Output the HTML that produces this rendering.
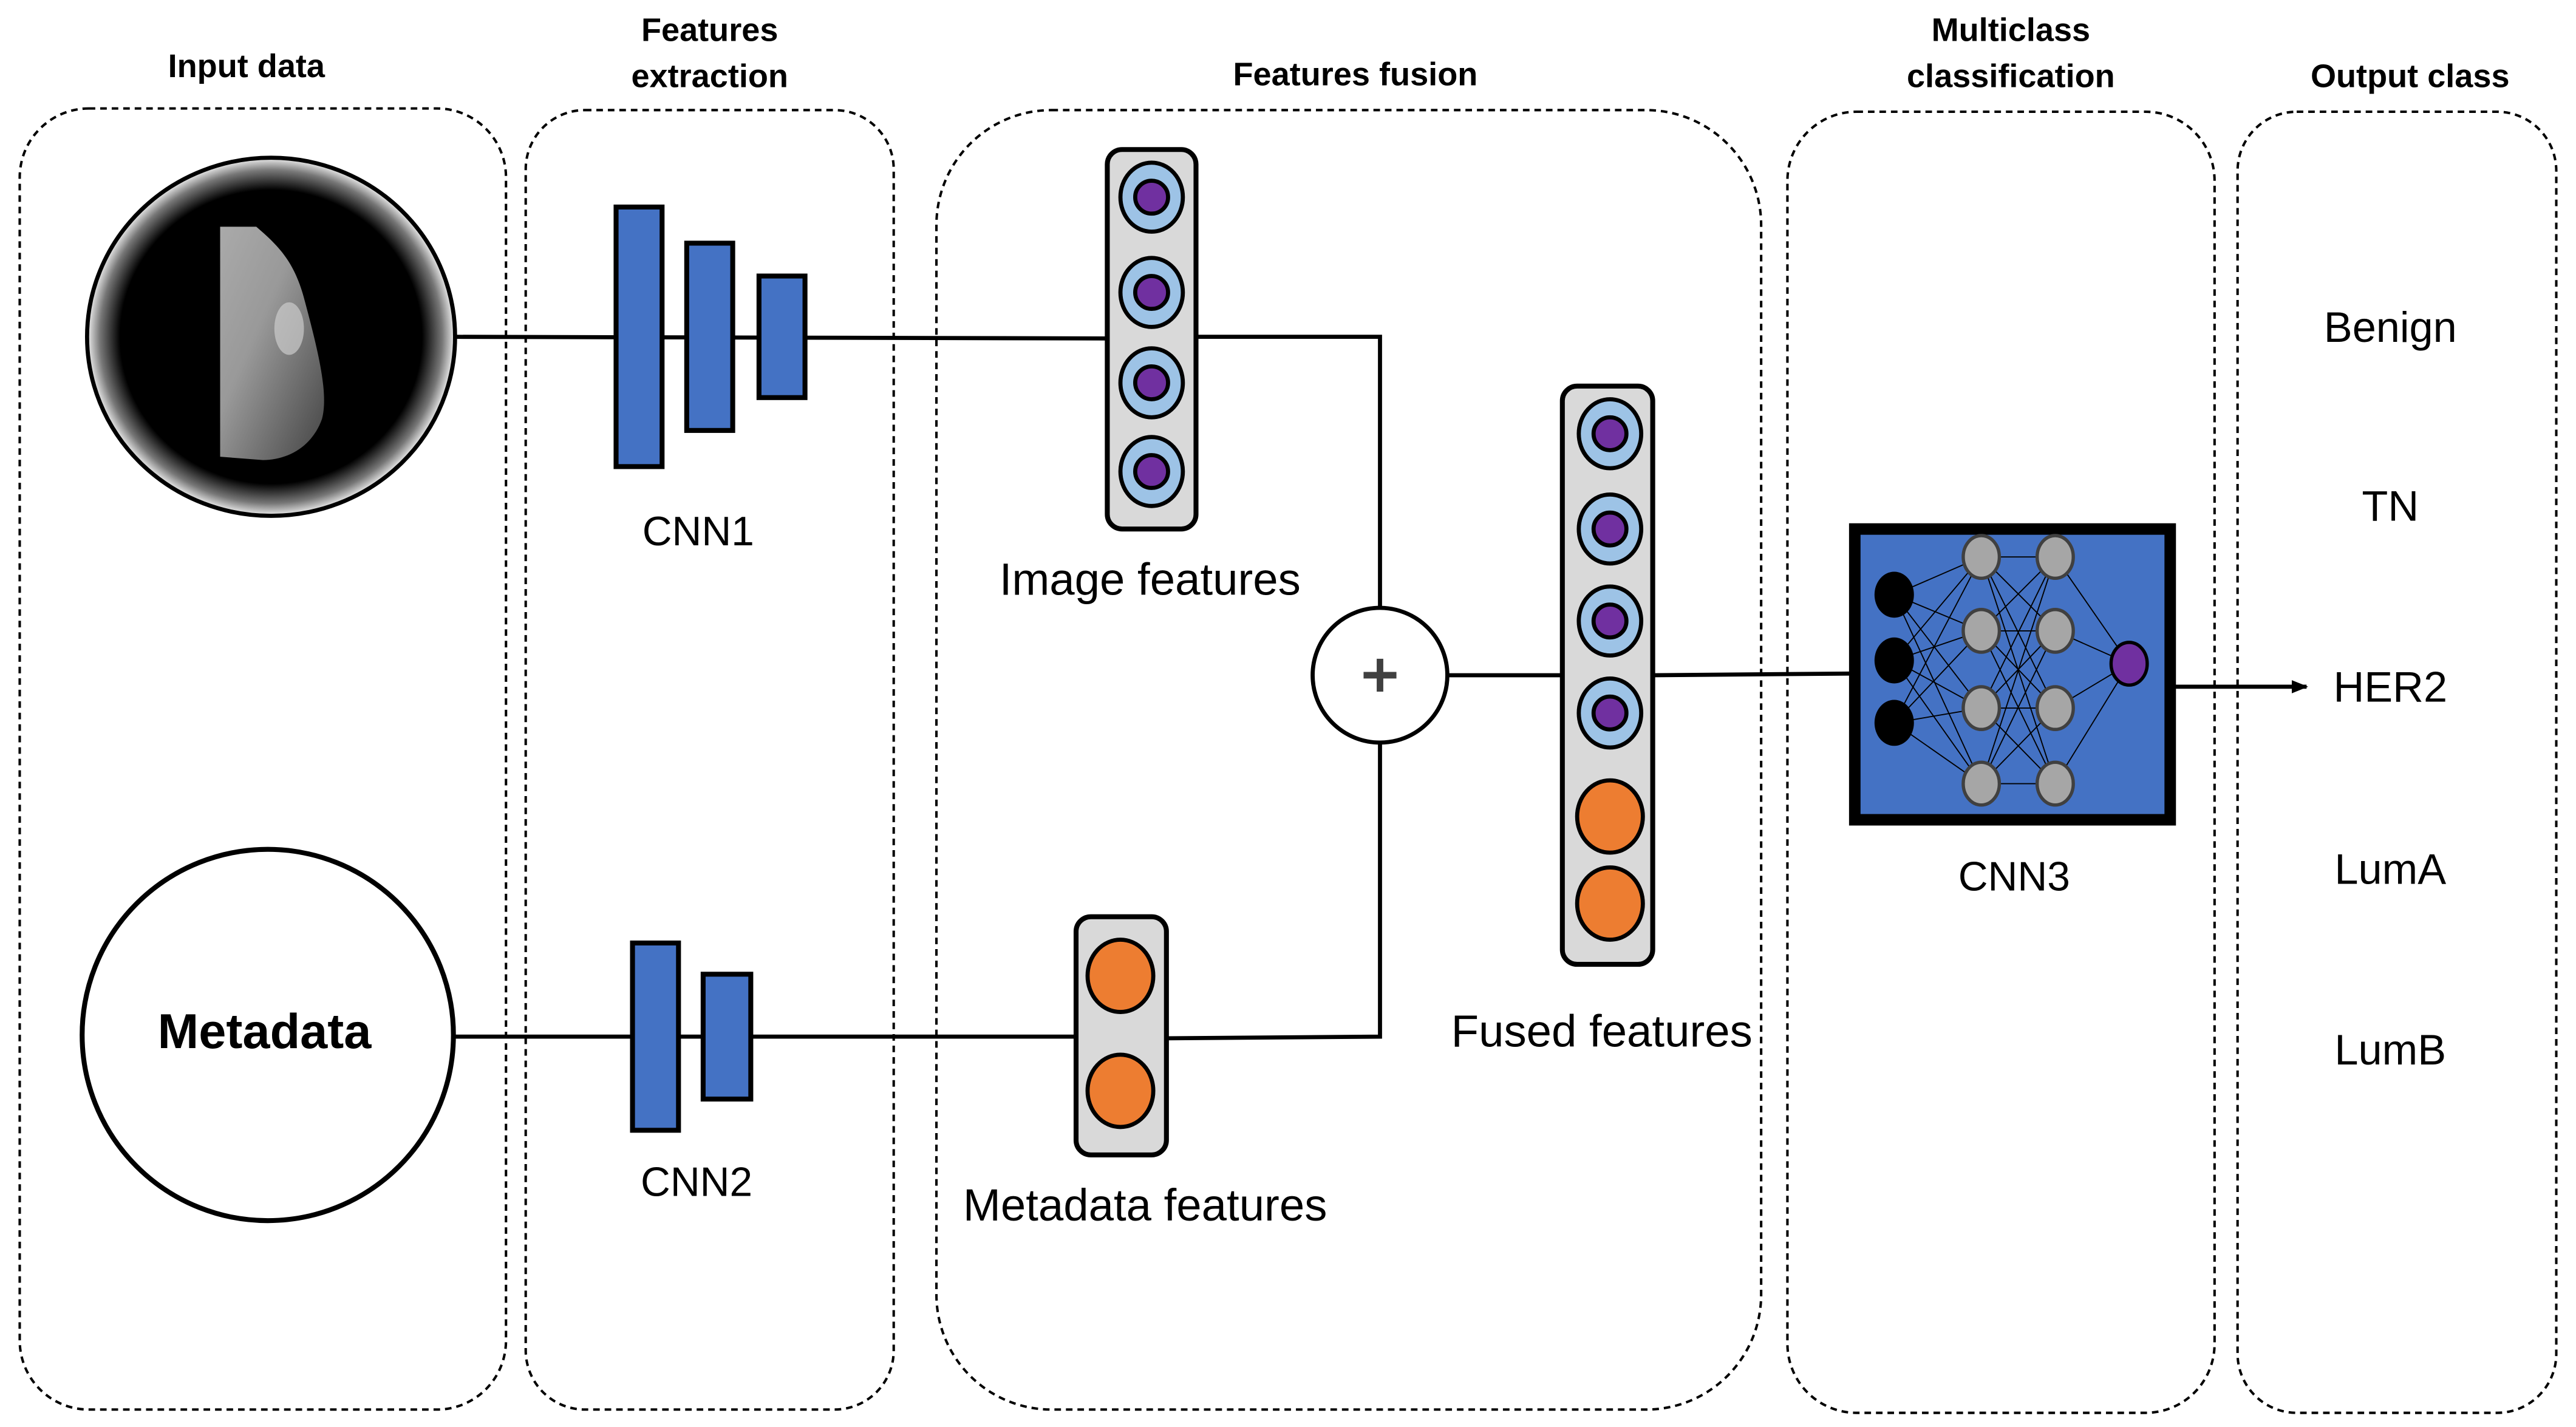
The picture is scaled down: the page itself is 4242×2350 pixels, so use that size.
<!DOCTYPE html>
<html><head><meta charset="utf-8"><style>html,body{margin:0;padding:0;background:#fff}svg{display:block}</style></head>
<body>
<svg width="4242" height="2350" viewBox="0 0 1568 868.6" xmlns="http://www.w3.org/2000/svg" font-family="'Liberation Sans', sans-serif">
<defs>
<radialGradient id="rg" cx="0.5" cy="0.5" r="0.5">
<stop offset="0.82" stop-color="#000"/><stop offset="0.93" stop-color="#777"/><stop offset="1" stop-color="#eee"/>
</radialGradient>
<linearGradient id="mg" x1="0" y1="0" x2="1" y2="1">
<stop offset="0" stop-color="#aaa"/><stop offset="0.4" stop-color="#999"/><stop offset="1" stop-color="#444"/>
</linearGradient>
<marker id="ah" markerWidth="10" markerHeight="10" refX="9" refY="5" orient="auto" markerUnits="userSpaceOnUse"><path d="M0,1 L10,5 L0,9 z" fill="#000"/></marker>
</defs>
<g fill="none" stroke="#000" stroke-width="1.5" stroke-dasharray="4,3">
<rect x="12" y="66" width="296" height="792" rx="42"/>
<rect x="320" y="67" width="224" height="791" rx="36"/>
<rect x="570" y="67" width="502" height="791" rx="70"/>
<rect x="1088" y="68" width="260" height="792" rx="42"/>
<rect x="1362" y="68" width="194" height="792" rx="36"/>
</g>
<g font-weight="bold" font-size="20" text-anchor="middle" fill="#000">
<text x="150" y="47">Input data</text>
<text x="432" y="25">Features</text><text x="432" y="53">extraction</text>
<text x="825" y="52">Features fusion</text>
<text x="1224" y="25">Multiclass</text><text x="1224" y="53">classification</text>
<text x="1467" y="53">Output class</text>
</g>
<g stroke="#000" stroke-width="2.5" fill="none">
<line x1="277" y1="205" x2="674" y2="206"/>
<polyline points="728,205 840,205 840,370"/>
<line x1="277" y1="631" x2="655" y2="631"/>
<polyline points="710,632 840,631 840,452"/>
<line x1="882" y1="411" x2="951" y2="411"/>
<line x1="1006" y1="411" x2="1126" y2="410"/>
<line x1="1324" y1="418" x2="1404" y2="418" marker-end="url(#ah)"/>
</g>
<ellipse cx="165" cy="205" rx="112" ry="109" fill="url(#rg)" stroke="#000" stroke-width="2.5"/>
<path d="M134,138 L156,138 C170,150 180,160 186,185 C194,215 200,240 196,255 C190,272 175,280 160,280 L134,278 Z" fill="url(#mg)"/>
<ellipse cx="176" cy="200" rx="9" ry="16" fill="#ccc" opacity="0.7"/>
<circle cx="163" cy="630" r="113" fill="#fff" stroke="#000" stroke-width="3"/>
<text x="161" y="638" font-weight="bold" font-size="30" text-anchor="middle">Metadata</text>
<g fill="#4472c4" stroke="#000" stroke-width="3">
<rect x="375" y="126" width="28" height="158"/>
<rect x="418" y="148" width="28" height="114"/>
<rect x="462" y="168" width="28" height="74"/>
<rect x="385" y="574" width="28" height="114"/>
<rect x="428" y="593" width="29" height="76"/>
</g>
<g fill="#d9d9d9" stroke="#000" stroke-width="3">
<rect x="674" y="91" width="54" height="231" rx="9"/>
<rect x="655" y="558" width="55" height="145" rx="9"/>
<rect x="951" y="235" width="55" height="352" rx="9"/>
</g>
<g stroke="#000" stroke-width="2.5">
<g fill="#9dc3e6">
<ellipse cx="701" cy="120" rx="19" ry="21"/><ellipse cx="701" cy="178" rx="19" ry="21"/><ellipse cx="701" cy="233" rx="19" ry="21"/><ellipse cx="701" cy="287" rx="19" ry="21"/>
<ellipse cx="980" cy="264" rx="19" ry="21"/><ellipse cx="980" cy="322" rx="19" ry="21"/><ellipse cx="980" cy="378" rx="19" ry="21"/><ellipse cx="980" cy="434" rx="19" ry="21"/>
</g>
<g fill="#7030a0">
<circle cx="701" cy="120" r="10"/><circle cx="701" cy="178" r="10"/><circle cx="701" cy="233" r="10"/><circle cx="701" cy="287" r="10"/>
<circle cx="980" cy="264" r="10"/><circle cx="980" cy="322" r="10"/><circle cx="980" cy="378" r="10"/><circle cx="980" cy="434" r="10"/>
</g>
<g fill="#ed7d31">
<ellipse cx="682" cy="594" rx="20" ry="22"/><ellipse cx="682" cy="664" rx="20" ry="22"/>
<ellipse cx="980" cy="497" rx="20" ry="22"/><ellipse cx="980" cy="550" rx="20" ry="22"/>
</g>
</g>
<circle cx="840" cy="411" r="41" fill="#fff" stroke="#000" stroke-width="2.5"/>
<path d="M830,411 h20 M840,401 v20" stroke="#404040" stroke-width="4"/>
<g font-size="25" text-anchor="middle" fill="#000">
<text x="425" y="332">CNN1</text>
<text x="424" y="728">CNN2</text>
<text x="1226" y="542">CNN3</text>
<g font-size="26">
<text x="1455" y="208">Benign</text>
<text x="1455" y="317">TN</text>
<text x="1455" y="427">HER2</text>
<text x="1455" y="538">LumA</text>
<text x="1455" y="648">LumB</text>
</g>
<g font-size="27.5">
<text x="700" y="362">Image features</text>
<text x="697" y="743">Metadata features</text>
<text x="975" y="637">Fused features</text>
</g>
</g>
<rect x="1129" y="322" width="192" height="177" fill="#4472c4" stroke="#000" stroke-width="7"/>
<g stroke="#000" stroke-width="0.7">
<path d="M1153,362 L1206,339 M1153,362 L1206,384 M1153,362 L1206,431 M1153,362 L1206,477
M1153,402 L1206,339 M1153,402 L1206,384 M1153,402 L1206,431 M1153,402 L1206,477
M1153,440 L1206,339 M1153,440 L1206,384 M1153,440 L1206,431 M1153,440 L1206,477
M1206,339 L1251,339 M1206,339 L1251,384 M1206,339 L1251,431 M1206,339 L1251,477
M1206,384 L1251,339 M1206,384 L1251,384 M1206,384 L1251,431 M1206,384 L1251,477
M1206,431 L1251,339 M1206,431 L1251,384 M1206,431 L1251,431 M1206,431 L1251,477
M1206,477 L1251,339 M1206,477 L1251,384 M1206,477 L1251,431 M1206,477 L1251,477
M1251,339 L1296,404 M1251,384 L1296,404 M1251,431 L1296,404 M1251,477 L1296,404"/>
</g>
<g fill="#000"><ellipse cx="1153" cy="362" rx="12" ry="14"/><ellipse cx="1153" cy="402" rx="12" ry="14"/><ellipse cx="1153" cy="440" rx="12" ry="14"/></g>
<g fill="#a6a6a6" stroke="#404040" stroke-width="2">
<ellipse cx="1206" cy="339" rx="11" ry="13"/><ellipse cx="1206" cy="384" rx="11" ry="13"/><ellipse cx="1206" cy="431" rx="11" ry="13"/><ellipse cx="1206" cy="477" rx="11" ry="13"/>
<ellipse cx="1251" cy="339" rx="11" ry="13"/><ellipse cx="1251" cy="384" rx="11" ry="13"/><ellipse cx="1251" cy="431" rx="11" ry="13"/><ellipse cx="1251" cy="477" rx="11" ry="13"/>
</g>
<ellipse cx="1296" cy="404" rx="11" ry="13" fill="#7030a0" stroke="#000" stroke-width="2"/>
</svg>
</body></html>
